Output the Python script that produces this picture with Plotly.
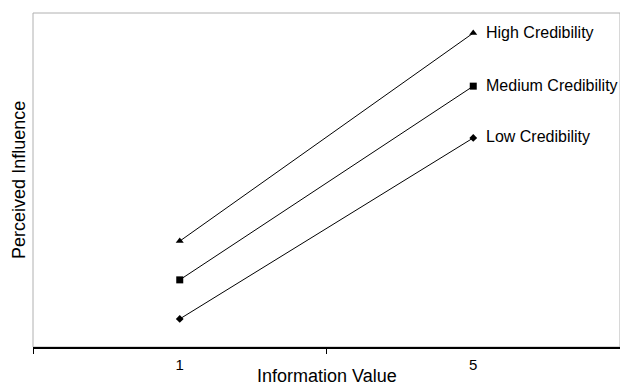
import plotly.graph_objects as go

categories = ["1", "5"]
series_names = ["High Credibility", "Medium Credibility", "Low Credibility"]
high = [3.17, 9.40]
medium = [2.01, 7.81]
low = [0.84, 6.26]
symbols = ["triangle-up", "square", "diamond"]
sizes = [7, 7, 6]

FONT = "Liberation Sans, Arial, Helvetica"

fig = go.Figure()
annotations = []
last_idx = len(categories) - 1
for name, vals, sym, sz in zip(series_names, [high, medium, low], symbols, sizes):
    fig.add_trace(go.Scatter(
        x=categories, y=vals, mode="lines+markers",
        line=dict(color="black", width=1),
        marker=dict(symbol=sym, size=sz, color="black"),
        showlegend=False, cliponaxis=False, hoverinfo="skip",
    ))
    annotations.append(dict(
        x=last_idx, y=vals[-1], xref="x", yref="y", text=name,
        showarrow=False, xanchor="left", yanchor="middle", xshift=11, yshift=1,
        font=dict(family=FONT, size=16, color="black"),
    ))

annotations.append(dict(
    x=0.5, y=-0.087, xref="paper", yref="paper", text="Information Value",
    showarrow=False, xanchor="center", yanchor="middle",
    font=dict(family=FONT, size=18, color="black"),
))
annotations.append(dict(
    x=-0.024, y=0.5, xref="paper", yref="paper", text="Perceived Influence",
    showarrow=False, xanchor="center", yanchor="middle", textangle=-90,
    font=dict(family=FONT, size=18, color="black"),
))

fig.update_layout(
    width=620, height=386,
    margin=dict(l=33, r=0, t=13, b=39, autoexpand=False),
    paper_bgcolor="white", plot_bgcolor="white",
    font=dict(family=FONT, size=15, color="black"),
    annotations=annotations,
    shapes=[dict(type="rect", xref="paper", yref="paper", x0=0, x1=1, y0=0, y1=1,
                 line=dict(color="#b0b0b0", width=1), layer="below")],
)
fig.update_xaxes(
    type="category", range=[-0.5, 1.5], tickson="boundaries", automargin=False,
    ticks="outside", ticklen=5, tickwidth=1, tickcolor="black",
    ticklabelstandoff=3,
    showline=True, linecolor="black", linewidth=2, showgrid=False, zeroline=False,
    tickfont=dict(family=FONT, size=15),
)
fig.update_yaxes(
    range=[0, 10], showticklabels=False, ticks="", showgrid=False, zeroline=False,
    showline=False, automargin=False,
)
fig.write_html(
    "out.html",
    config={"displayModeBar": False},
    post_script="document.body.style.margin='0';document.body.style.overflow='hidden';",
)
